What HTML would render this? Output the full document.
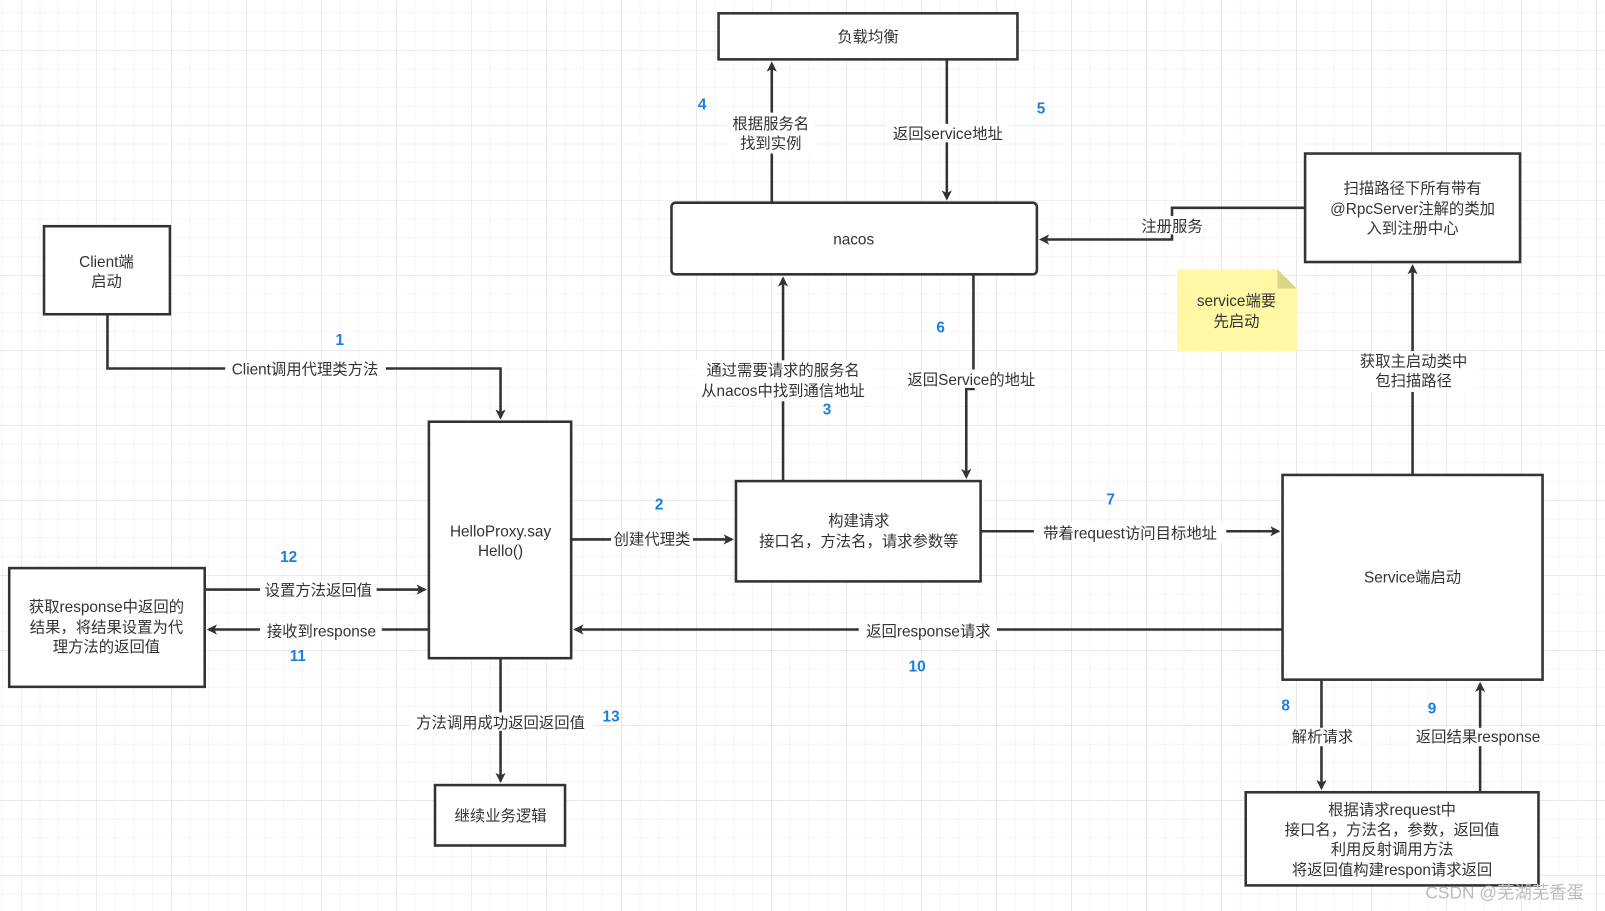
<!DOCTYPE html>
<html><head><meta charset="utf-8"><style>
html,body{margin:0;padding:0;background:#fff}
svg{display:block}
text{font-family:"Liberation Sans","Noto Sans CJK SC",sans-serif;font-size:15px;fill:#333;text-anchor:middle}
.n{fill:#1a7fe0;font-weight:bold;font-size:15px}
.b{fill:#fff;stroke:#333;stroke-width:2.5}
.l{stroke:#333;stroke-width:2.5;fill:none}
</style></head><body>
<svg width="1605" height="911" viewBox="0 0 1568 890" preserveAspectRatio="none" xmlns="http://www.w3.org/2000/svg">
<defs>
<pattern id="g" x="2.2" y="12.2" width="18.32" height="18.32" patternUnits="userSpaceOnUse"><path d="M0 0H18.32M0 0V18.32" stroke="#ececec" stroke-width="1"/></pattern>
<pattern id="G" x="20.5" y="48.8" width="73.3" height="73.3" patternUnits="userSpaceOnUse"><path d="M0 0H73.3M0 0V73.3" stroke="#dcdcdc" stroke-width="1"/></pattern>
<marker id="a" markerWidth="10" markerHeight="10" refX="8" refY="5" orient="auto" markerUnits="userSpaceOnUse"><path d="M0 0L10 5L0 10L2.5 5Z" fill="#333"/></marker>
</defs>
<rect width="1568" height="890" fill="url(#g)"/>
<rect width="1568" height="890" fill="url(#G)"/>

<rect class="b" x="702" y="13" width="292" height="45"/><text x="848" y="41">负载均衡</text>
<rect class="b" x="656" y="198" width="357" height="70" rx="4"/><text x="834" y="239">nacos</text>
<rect class="b" x="43" y="221" width="123" height="86"/><text x="104" y="261">Client端</text><text x="104" y="280">启动</text>
<rect class="b" x="1275" y="150" width="210" height="106"/><text x="1380" y="189">扫描路径下所有带有</text><text x="1380" y="209">@RpcServer注解的类加</text><text x="1380" y="228">入到注册中心</text>
<path d="M1150 263 H1248 L1267 282 V343 H1150Z" fill="#fff9a6"/><path d="M1248 263 L1267 282 H1248Z" fill="#d7d68a"/>
<text x="1208" y="299">service端要</text><text x="1208" y="319">先启动</text>
<rect class="b" x="419" y="412" width="139" height="231"/><text x="489" y="524">HelloProxy.say</text><text x="489" y="543">Hello()</text>
<rect class="b" x="719" y="470" width="239" height="98"/><text x="839" y="514">构建请求</text><text x="839" y="534">接口名，方法名，请求参数等</text>
<rect class="b" x="1253" y="464" width="254" height="200"/><text x="1380" y="569">Service端启动</text>
<rect class="b" x="9" y="555" width="191" height="116"/><text x="104" y="598">获取response中返回的</text><text x="104" y="618">结果，将结果设置为代</text><text x="104" y="637">理方法的返回值</text>
<rect class="b" x="425" y="767" width="127" height="59"/><text x="489" y="802">继续业务逻辑</text>
<rect class="b" x="1217" y="774" width="286" height="91"/><text x="1360" y="796">根据请求request中</text><text x="1360" y="816">接口名，方法名，参数，返回值</text><text x="1360" y="835">利用反射调用方法</text><text x="1360" y="855">将返回值构建respon请求返回</text>

<path class="l" d="M754 198 V62" marker-end="url(#a)"/>
<path class="l" d="M925 58 V194" marker-end="url(#a)"/>
<path class="l" d="M1275 203 H1145 V234 H1017" marker-end="url(#a)"/>
<path class="l" d="M105 307 V360 H489 V408" marker-end="url(#a)"/>
<path class="l" d="M765 470 V272" marker-end="url(#a)"/>
<path class="l" d="M951 268 V380 H944 V466" marker-end="url(#a)"/>
<path class="l" d="M558 527 H715" marker-end="url(#a)"/>
<path class="l" d="M958 519 H1249" marker-end="url(#a)"/>
<path class="l" d="M1380 464 V260" marker-end="url(#a)"/>
<path class="l" d="M1253 615 H562" marker-end="url(#a)"/>
<path class="l" d="M200 576 H415" marker-end="url(#a)"/>
<path class="l" d="M419 615 H204" marker-end="url(#a)"/>
<path class="l" d="M489 643 V763" marker-end="url(#a)"/>
<path class="l" d="M1291 664 V770" marker-end="url(#a)"/>
<path class="l" d="M1446 774 V668" marker-end="url(#a)"/>

<g>
<rect x="710" y="110" width="86" height="40" fill="#fff"/><text x="753" y="126">根据服务名</text><text x="753" y="145">找到实例</text>
<rect x="866" y="121" width="120" height="18" fill="#fff"/><text x="926" y="136">返回service地址</text>
<rect x="1112" y="211" width="66" height="18" fill="#fff"/><text x="1145" y="226">注册服务</text>
<rect x="220" y="351" width="157" height="18" fill="#fff"/><text x="298" y="366">Client调用代理类方法</text>
<rect x="678" y="352" width="174" height="40" fill="#fff"/><text x="765" y="367">通过需要请求的服务名</text><text x="765" y="387">从nacos中找到通信地址</text>
<rect x="880" y="361" width="138" height="18" fill="#fff"/><text x="949" y="376">返回Service的地址</text>
<rect x="1323" y="343" width="116" height="40" fill="#fff"/><text x="1381" y="358">获取主启动类中</text><text x="1381" y="377">包扫描路径</text>
<rect x="597" y="517" width="80" height="18" fill="#fff"/><text x="637" y="532">创建代理类</text>
<rect x="1010" y="511" width="188" height="18" fill="#fff"/><text x="1104" y="526">带着request访问目标地址</text>
<rect x="254" y="567" width="114" height="18" fill="#fff"/><text x="311" y="582">设置方法返回值</text>
<rect x="254" y="607" width="119" height="18" fill="#fff"/><text x="314" y="622">接收到response</text>
<rect x="839" y="607" width="135" height="18" fill="#fff"/><text x="907" y="622">返回response请求</text>
<rect x="400" y="696" width="180" height="18" fill="#fff"/><text x="489" y="711">方法调用成功返回返回值</text>
<rect x="1258" y="711" width="68" height="18" fill="#fff"/><text x="1292" y="725">解析请求</text>
<rect x="1377" y="711" width="134" height="18" fill="#fff"/><text x="1444" y="725">返回结果response</text>
</g>
<text class="n" x="686" y="107">4</text><text class="n" x="1017" y="111">5</text>
<text class="n" x="332" y="337">1</text><text class="n" x="919" y="325">6</text>
<text class="n" x="808" y="405">3</text><text class="n" x="644" y="498">2</text>
<text class="n" x="1085" y="493">7</text><text class="n" x="282" y="549">12</text>
<text class="n" x="291" y="646">11</text><text class="n" x="896" y="656">10</text>
<text class="n" x="597" y="705">13</text><text class="n" x="1256" y="694">8</text>
<text class="n" x="1399" y="697">9</text>
<text x="1470" y="878" style="fill:#bbb;font-size:17px">CSDN @芜湖芜香蛋</text>
</svg>
</body></html>
